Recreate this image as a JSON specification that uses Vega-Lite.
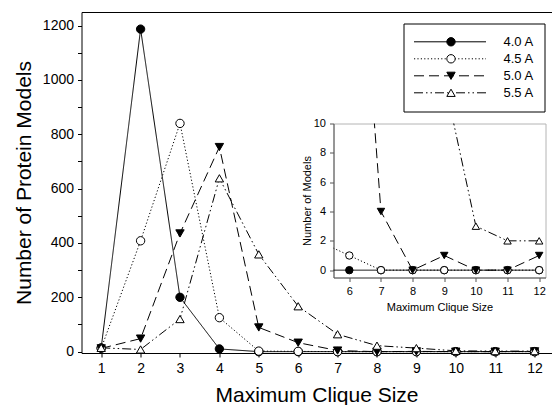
{
  "$schema": "https://vega.github.io/schema/vega-lite/v6.json",
  "padding": {"left": 12.5, "top": 12, "right": 0, "bottom": 0},
  "background": "white",
  "config": {
    "font": "Liberation Sans",
    "view": {"stroke": null},
    "axis": {"labelColor": "black", "titleColor": "black", "domainColor": "black", "tickColor": "black", "titleFontWeight": "normal", "grid": false, "labelFont": "Liberation Sans", "titleFont": "Liberation Sans", "labelOverlap": false, "labelFlush": false, "labelBound": false}
  },
  "data": {
    "values": [
      {"size": 1, "series": "4.0 A", "count": 14},
      {"size": 2, "series": "4.0 A", "count": 1187},
      {"size": 3, "series": "4.0 A", "count": 200},
      {"size": 4, "series": "4.0 A", "count": 10},
      {"size": 5, "series": "4.0 A", "count": 0},
      {"size": 6, "series": "4.0 A", "count": 0},
      {"size": 7, "series": "4.0 A", "count": 0},
      {"size": 8, "series": "4.0 A", "count": 0},
      {"size": 9, "series": "4.0 A", "count": 0},
      {"size": 10, "series": "4.0 A", "count": 0},
      {"size": 11, "series": "4.0 A", "count": 0},
      {"size": 12, "series": "4.0 A", "count": 0},
      {"size": 1, "series": "4.5 A", "count": 12},
      {"size": 2, "series": "4.5 A", "count": 408},
      {"size": 3, "series": "4.5 A", "count": 840},
      {"size": 4, "series": "4.5 A", "count": 125},
      {"size": 5, "series": "4.5 A", "count": 2},
      {"size": 6, "series": "4.5 A", "count": 1},
      {"size": 7, "series": "4.5 A", "count": 0},
      {"size": 8, "series": "4.5 A", "count": 0},
      {"size": 9, "series": "4.5 A", "count": 0},
      {"size": 10, "series": "4.5 A", "count": 0},
      {"size": 11, "series": "4.5 A", "count": 0},
      {"size": 12, "series": "4.5 A", "count": 0},
      {"size": 1, "series": "5.0 A", "count": 12},
      {"size": 2, "series": "5.0 A", "count": 48},
      {"size": 3, "series": "5.0 A", "count": 435},
      {"size": 4, "series": "5.0 A", "count": 753},
      {"size": 5, "series": "5.0 A", "count": 89},
      {"size": 6, "series": "5.0 A", "count": 33},
      {"size": 7, "series": "5.0 A", "count": 4},
      {"size": 8, "series": "5.0 A", "count": 0},
      {"size": 9, "series": "5.0 A", "count": 1},
      {"size": 10, "series": "5.0 A", "count": 0},
      {"size": 11, "series": "5.0 A", "count": 0},
      {"size": 12, "series": "5.0 A", "count": 1},
      {"size": 1, "series": "5.5 A", "count": 14},
      {"size": 2, "series": "5.5 A", "count": 8},
      {"size": 3, "series": "5.5 A", "count": 120},
      {"size": 4, "series": "5.5 A", "count": 638},
      {"size": 5, "series": "5.5 A", "count": 358},
      {"size": 6, "series": "5.5 A", "count": 167},
      {"size": 7, "series": "5.5 A", "count": 64},
      {"size": 8, "series": "5.5 A", "count": 22},
      {"size": 9, "series": "5.5 A", "count": 13},
      {"size": 10, "series": "5.5 A", "count": 3},
      {"size": 11, "series": "5.5 A", "count": 2},
      {"size": 12, "series": "5.5 A", "count": 2}
    ]
  },
  "columns": 2,
  "align": "none",
  "bounds": "flush",
  "spacing": {"row": -229.5, "column": -218},
  "resolve": {"scale": {"x": "independent", "y": "independent", "strokeDash": "shared", "shape": "shared", "fill": "shared"}},
  "concat": [
    {
      "width": 470,
      "height": 341,
      "layer": [
        {
          "mark": {"type": "line", "color": "black", "strokeWidth": 1},
          "encoding": {
            "x": {"field": "size", "type": "quantitative", "scale": {"domain": [0.5, 12.43], "nice": false, "zero": false},
              "axis": {"orient": "bottom", "values": [1,2,3,4,5,6,7,8,9,10,11,12], "format": "d", "tickSize": 4, "labelFontSize": 14, "labelPadding": 4, "title": "Maximum Clique Size", "titleFontSize": 21, "titlePadding": 9}},
            "y": {"field": "count", "type": "quantitative", "scale": {"domain": [-5, 1250], "nice": false, "zero": false},
              "axis": {"orient": "left", "values": [0,200,400,600,800,1000,1200], "format": "d", "tickSize": 4, "labelFontSize": 14, "labelPadding": 4, "title": "Number of Protein Models", "titleFontSize": 21, "titlePadding": 8}},
            "strokeDash": {"field": "series", "type": "nominal",
              "scale": {"range": [[1, 0], [1.2, 2.2], [10, 5], [9, 3, 1.5, 3, 1.5, 3]]},
              "legend": {"orient": "none", "legendX": 322, "legendY": 11.5, "direction": "vertical", "title": null, "symbolType": "stroke", "symbolSize": 5184, "symbolStrokeColor": "black", "symbolStrokeWidth": 1, "clipHeight": 16.6, "rowPadding": 0, "labelFontSize": 13, "labelColor": "black", "labelOffset": 17, "padding": 10, "strokeColor": "black", "fillColor": "white", "zindex": 1}}
          }
        },
        {
          "mark": {"type": "point", "filled": false, "color": "black", "size": 70, "strokeWidth": 1, "opacity": 1},
          "encoding": {
            "x": {"field": "size", "type": "quantitative", "scale": {"domain": [0.5, 12.43], "nice": false, "zero": false},
              "axis": {"orient": "top", "labels": false, "ticks": false, "domain": true, "title": null}},
            "y": {"field": "count", "type": "quantitative", "scale": {"domain": [-5, 1250], "nice": false, "zero": false},
              "axis": {"orient": "left", "values": [100,300,500,700,900,1100], "labels": false, "tickSize": 4, "domain": false, "title": null}},
            "shape": {"field": "series", "type": "nominal",
              "scale": {"domain": ["4.0 A", "4.5 A", "5.0 A", "5.5 A"], "range": ["circle", "circle", "triangle-down", "triangle-up"]},
              "legend": {"orient": "none", "legendX": 354.5, "legendY": 11.5, "direction": "vertical", "title": null, "symbolSize": 70, "symbolStrokeWidth": 1, "symbolOpacity": 1, "clipHeight": 16.6, "rowPadding": 0, "labelExpr": "''", "padding": 10, "zindex": 2}},
            "fill": {"field": "series", "type": "nominal",
              "scale": {"domain": ["4.0 A", "4.5 A", "5.0 A", "5.5 A"], "range": ["black", "white", "black", "white"]},
              "legend": {"orient": "none", "legendX": 354.5, "legendY": 11.5, "direction": "vertical", "title": null, "symbolSize": 70, "symbolStrokeWidth": 1, "symbolOpacity": 1, "clipHeight": 16.6, "rowPadding": 0, "labelExpr": "''", "padding": 10, "zindex": 2}}
          }
        }
      ],
      "resolve": {"axis": {"x": "independent", "y": "independent"}}
    },
    {
      "width": 212,
      "height": 341,
      "data": {"values": []},
      "mark": "point"
    },
    {
      "width": 470,
      "height": 1,
      "data": {"values": []},
      "mark": "point"
    },
    {
      "width": 212,
      "height": 154,
      "view": {"stroke": "#b4b4b4"},
      "transform": [{"filter": "datum.size >= 5"}],
      "layer": [
        {
          "mark": {"type": "line", "color": "black", "strokeWidth": 1, "clip": true},
          "encoding": {
            "x": {"field": "size", "type": "quantitative", "scale": {"domain": [5.5, 12.2], "nice": false, "zero": false},
              "axis": {"values": [6,7,8,9,10,11,12], "format": "d", "labelOverlap": false, "tickSize": 4, "labelFontSize": 11, "labelPadding": 4, "title": "Maximum Clique Size", "titleFontSize": 11, "titlePadding": 5, "domainColor": "#555", "tickColor": "#555"}},
            "y": {"field": "count", "type": "quantitative", "scale": {"domain": [-0.5, 10], "nice": false, "zero": false},
              "axis": {"values": [0,2,4,6,8,10], "format": "d", "labelOverlap": false, "tickSize": 4, "labelFontSize": 11, "labelPadding": 4, "title": "Number of Models", "titleFontSize": 11, "titlePadding": 1, "domainColor": "#555", "tickColor": "#555"}},
            "strokeDash": {"field": "series", "type": "nominal", "legend": null}
          }
        },
        {
          "mark": {"type": "point", "filled": false, "color": "black", "size": 55, "strokeWidth": 1, "opacity": 1, "clip": true},
          "encoding": {
            "x": {"field": "size", "type": "quantitative", "scale": {"domain": [5.5, 12.2], "nice": false, "zero": false},
              "axis": {"values": [6,7,8,9,10,11,12], "format": "d", "labelOverlap": false, "tickSize": 4, "labelFontSize": 11, "labelPadding": 4, "title": "Maximum Clique Size", "titleFontSize": 11, "titlePadding": 5, "domainColor": "#555", "tickColor": "#555"}},
            "y": {"field": "count", "type": "quantitative", "scale": {"domain": [-0.5, 10], "nice": false, "zero": false},
              "axis": {"values": [0,2,4,6,8,10], "format": "d", "labelOverlap": false, "tickSize": 4, "labelFontSize": 11, "labelPadding": 4, "title": "Number of Models", "titleFontSize": 11, "titlePadding": 1, "domainColor": "#555", "tickColor": "#555"}},
            "shape": {"field": "series", "type": "nominal", "legend": null},
            "fill": {"field": "series", "type": "nominal", "legend": null}
          }
        }
      ]
    }
  ]
}
